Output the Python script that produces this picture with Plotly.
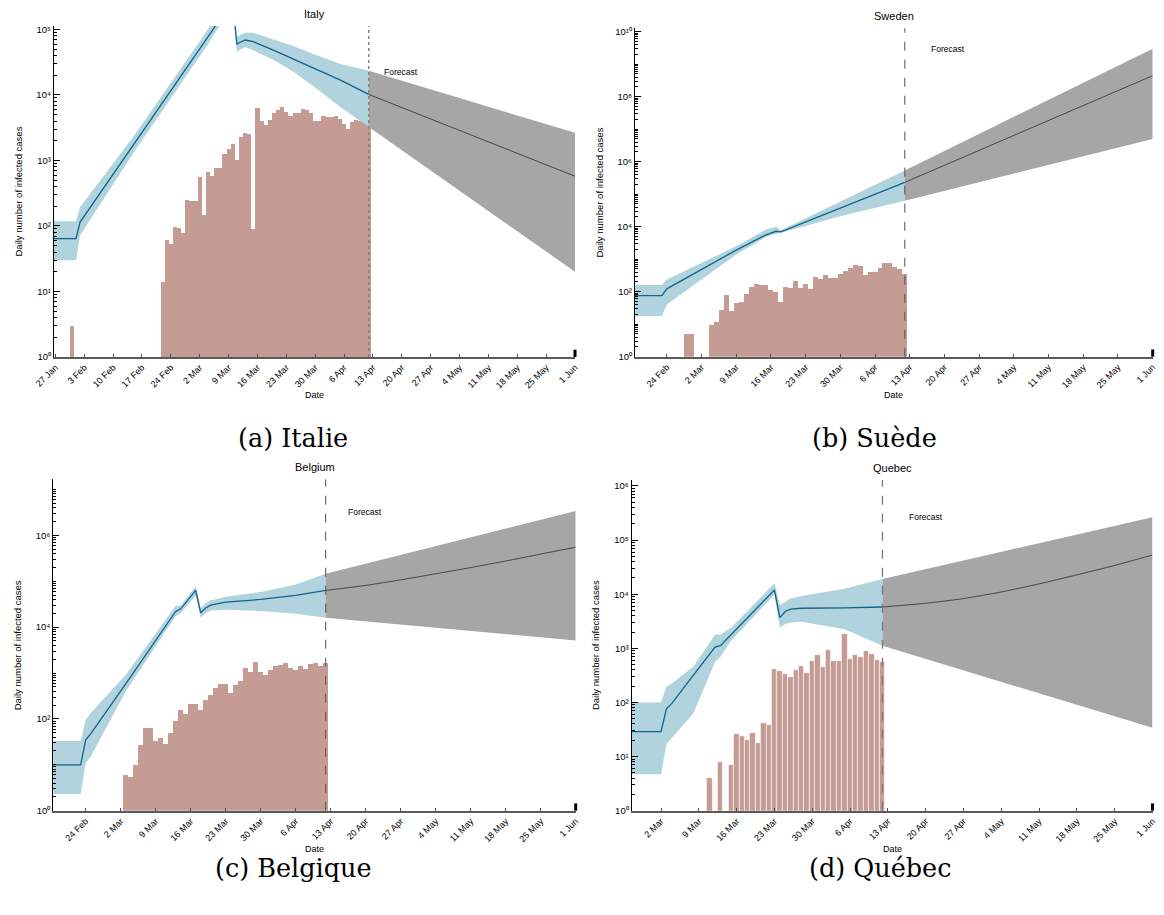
import plotly.graph_objects as go

# The page body has an 8px default margin, so the figure is drawn 8px in from the corner.
OFF = 8
W, H = 1164 - OFF, 915 - OFF

# ---------------- Italy ----------------
it_dates = ["2020-01-26", "2020-02-01", "2020-02-02", "2020-02-15", "2020-03-02", "2020-03-04",
            "2020-03-05", "2020-03-10", "2020-03-11", "2020-03-13", "2020-03-15", "2020-03-20",
            "2020-03-25", "2020-03-30", "2020-04-05", "2020-04-12"]
it_line = [64, 64, 115, 1740, 50000, 76000, 95000, 280000, 60000, 69000, 65000, 48000,
           35000, 25000, 17000, 10200]
it_upper = [118, 118, 195, 2340, 66000, 100000, 126000, 370000, 78000, 89000, 89000, 69000,
            55000, 41000, 30000, 23400]
it_lower = [30, 30, 72, 1320, 39000, 59000, 76000, 224000, 46000, 54000, 48000, 34000,
            22000, 13000, 6600, 3240]
it_fc_dates = ["2020-04-12", "2020-06-01"]
it_fc_line = [10200, 575]
it_fc_upper = [23400, 2640]
it_fc_lower = [3240, 20]
it_bar_dates = ["2020-01-31"] + [f"2020-02-{d:02d}" for d in range(22, 30)] + \
               [f"2020-03-{d:02d}" for d in range(1, 32)] + [f"2020-04-{d:02d}" for d in range(1, 13)]
it_bars = [3,
           14, 62, 53, 97, 93, 78, 250, 240,
           240, 560, 148, 670, 580, 770, 770, 1250, 1500, 1800, 1000, 2300, 2650, 2550, 91,
           6400, 4050, 3500, 4150, 5250, 5900, 6550, 5550, 4800, 5250, 5250, 6150, 5900, 5250,
           4050, 4050,
           4800, 4650, 4650, 4800, 4300, 3600, 3050, 3900, 4100, 4050, 4800, 4100]

# ---------------- Sweden ----------------
sw_dates = ["2020-02-17", "2020-02-23", "2020-02-24", "2020-03-09", "2020-03-15", "2020-03-17",
            "2020-03-18", "2020-03-30", "2020-04-12"]
sw_line = [76, 76, 122, 1900, 5600, 7200, 6900, 37000, 230000]
sw_upper = [160, 160, 235, 2500, 8100, 9800, 7700, 59000, 537000]
sw_lower = [18, 18, 40, 1400, 4800, 6000, 6500, 21000, 63000]
sw_fc_dates = ["2020-04-12", "2020-06-01"]
sw_fc_line = [230000, 4.4e8]
sw_fc_upper = [537000, 2.95e9]
sw_fc_lower = [63000, 5.0e6]
sw_bar_dates = ["2020-02-28", "2020-02-29"] + [f"2020-03-{d:02d}" for d in range(4, 32)] + \
               [f"2020-04-{d:02d}" for d in range(1, 13)]
sw_bars = [5, 5,
           9, 11.5, 26, 76, 24.5, 44, 48, 82, 141, 167, 155, 155, 110, 95, 48, 134, 125, 206,
           125, 167, 117, 275, 240, 315, 257, 257, 340, 420,
           515, 640, 600, 315, 390, 390, 515, 740, 740, 550, 480, 340]

# ---------------- Belgium ----------------
be_dates = ["2020-02-17", "2020-02-23", "2020-02-24", "2020-02-25", "2020-03-03", "2020-03-13",
            "2020-03-14", "2020-03-17", "2020-03-18", "2020-03-19", "2020-03-20", "2020-03-23",
            "2020-03-30", "2020-04-06", "2020-04-12"]
be_line = [10, 10, 35, 47, 580, 22000, 25000, 63000, 20500, 26000, 30000, 35000, 40000, 49000, 63000]
be_upper = [33, 33, 96, 135, 910, 29000, 29500, 78000, 26000, 33000, 38000, 46000, 58000, 85000, 145000]
be_lower = [2.3, 2.3, 11, 15, 400, 17400, 20400, 48000, 16000, 20000, 23000, 24000, 22400, 19500, 16000]
be_fc_line_dates = ["2020-04-12", "2020-04-20", "2020-04-27", "2020-05-04", "2020-05-11",
                    "2020-05-18", "2020-05-25", "2020-06-01"]
be_fc_line = [63000, 81000, 107000, 145000, 198000, 275000, 390000, 550000]
be_fc_dates = ["2020-04-12", "2020-06-01"]
be_fc_upper = [145000, 3.4e6]
be_fc_lower = [16000, 5100]
be_bar_dates = [f"2020-03-{d:02d}" for d in range(3, 32)] + [f"2020-04-{d:02d}" for d in range(1, 13)]
be_bars = [6, 5.3, 10, 27, 61, 61, 32, 38, 28, 48, 88, 155, 127, 204, 204, 155, 250, 320, 470,
           560, 575, 355, 530, 670, 1290, 1050, 1740, 1050, 870,
           1170, 1380, 1450, 1660, 1290, 1120, 1380, 1230, 1580, 1660, 1380, 1660]

# ---------------- Quebec ----------------
qc_dates = ["2020-02-25", "2020-03-02", "2020-03-03", "2020-03-04", "2020-03-08", "2020-03-12",
            "2020-03-13", "2020-03-15", "2020-03-23", "2020-03-24", "2020-03-25", "2020-03-26",
            "2020-03-28", "2020-04-05", "2020-04-12"]
qc_line = [29, 29, 76, 96, 320, 1050, 1120, 1800, 12000, 3700, 4800, 5300, 5500, 5600, 5800]
qc_upper = [100, 100, 195, 225, 460, 1800, 1800, 2400, 16000, 6300, 7200, 8300, 9300, 12600, 19000]
qc_lower = [4.7, 4.7, 17, 22, 63, 560, 700, 1400, 9800, 2400, 2800, 3000, 3100, 2240, 1120]
qc_fc_line_dates = ["2020-04-12", "2020-04-20", "2020-04-27", "2020-05-04", "2020-05-11",
                    "2020-05-18", "2020-05-25", "2020-06-01"]
qc_fc_line = [5800, 6800, 8300, 11000, 15500, 22800, 34000, 53000]
qc_fc_dates = ["2020-04-12", "2020-06-01"]
qc_fc_upper = [19000, 263000]
qc_fc_lower = [1120, 34]
qc_bar_dates = ["2020-03-11", "2020-03-13", "2020-03-15"] + \
               [f"2020-03-{d:02d}" for d in range(16, 32)] + [f"2020-04-{d:02d}" for d in range(1, 13)]
qc_bars = [4, 8, 7,
           26, 24, 20, 27.5, 18, 42, 38, 415, 380, 335, 295, 400, 470, 350, 590, 760,
           455, 935, 590, 590, 1850, 635, 760, 690, 890, 790, 610, 560]

titles = ["Italy", "Sweden", "Belgium", "Quebec"]
captions = ["(a) Italie", "(b) Suède", "(c) Belgique", "(d) Québec"]

BLUE_BAND = "rgb(176,211,222)"
BLUE_LINE = "rgb(15,100,138)"
GRAY_BAND = "rgb(166,166,166)"
GRAY_LINE = "rgb(70,70,70)"
BAR = "#c49c94"
FONT = "Liberation Sans"
DAY = 86400000
SUP = str.maketrans("0123456789", "⁰¹²³⁴⁵⁶⁷⁸⁹")

fig = go.Figure()


def px_x(p):
    return (p - OFF) / W


def px_y(p):
    return 1 - (p - OFF) / H


panels = [
    dict(title=titles[0], cap=captions[0], box=(54, 575, 26, 357),
         xr=["2020-01-26 16:00", "2020-06-01"], yr=[0, 5.053], tick0="2020-01-27",
         ndec=5, labeled=[0, 1, 2, 3, 4, 5], vdash="dot", vcol="rgb(130,130,130)", vw=1.5,
         d=it_dates, l=it_line, u=it_upper, lo=it_lower,
         fld=it_fc_dates, fl=it_fc_line, fd=it_fc_dates, fu=it_fc_upper, flo=it_fc_lower,
         bd=it_bar_dates, b=it_bars, sep=False, fcpos=(401, 72), cappos=(293, 438)),
    dict(title=titles[1], cap=captions[1], box=(635, 1152.7, 28.3, 356.7),
         xr=["2020-02-17 14:00", "2020-06-01"], yr=[0, 10.1], tick0="2020-02-24",
         ndec=10, labeled=[0, 2, 4, 6, 8, 10], vdash="dash", vcol="rgb(80,80,80)", vw=1,
         d=sw_dates, l=sw_line, u=sw_upper, lo=sw_lower,
         fld=sw_fc_dates, fl=sw_fc_line, fd=sw_fc_dates, fu=sw_fc_upper, flo=sw_fc_lower,
         bd=sw_bar_dates, b=sw_bars, sep=False, fcpos=(948, 49), cappos=(874, 438)),
    dict(title=titles[2], cap=captions[2], box=(53.3, 575.7, 479.3, 810.7),
         xr=["2020-02-17 12:30", "2020-06-01"], yr=[0, 7.22], tick0="2020-02-24",
         ndec=7, labeled=[0, 2, 4, 6], vdash="dash", vcol="rgb(80,80,80)", vw=1,
         d=be_dates, l=be_line, u=be_upper, lo=be_lower,
         fld=be_fc_line_dates, fl=be_fc_line, fd=be_fc_dates, fu=be_fc_upper, flo=be_fc_lower,
         bd=be_bar_dates, b=be_bars, sep=False, fcpos=(365, 512), cappos=(293, 868)),
    dict(title=titles[3], cap=captions[3], box=(631.7, 1152.5, 480, 810.7),
         xr=["2020-02-25 13:40", "2020-06-01"], yr=[0, 6.11], tick0="2020-03-02",
         ndec=6, labeled=[0, 1, 2, 3, 4, 5, 6], vdash="dash", vcol="rgb(120,120,120)", vw=1.3,
         d=qc_dates, l=qc_line, u=qc_upper, lo=qc_lower,
         fld=qc_fc_line_dates, fl=qc_fc_line, fd=qc_fc_dates, fu=qc_fc_upper, flo=qc_fc_lower,
         bd=qc_bar_dates, b=qc_bars, sep=True, fcpos=(926, 517), cappos=(880, 868)),
]

annotations = []
shapes = []
for i, p in enumerate(panels):
    n = "" if i == 0 else str(i + 1)
    xa, ya = "x" + n, "y" + n
    # uncertainty band (fit)
    fig.add_trace(go.Scatter(x=p["d"] + p["d"][::-1], y=p["u"] + p["lo"][::-1], fill="toself",
                             fillcolor=BLUE_BAND, line=dict(width=0), mode="lines",
                             hoverinfo="skip", showlegend=False, xaxis=xa, yaxis=ya))
    # forecast band
    fig.add_trace(go.Scatter(x=p["fd"] + p["fd"][::-1], y=p["fu"] + p["flo"][::-1], fill="toself",
                             fillcolor=GRAY_BAND, line=dict(width=0), mode="lines",
                             hoverinfo="skip", showlegend=False, xaxis=xa, yaxis=ya))
    # observed bars
    fig.add_trace(go.Bar(x=p["bd"], y=p["b"], width=DAY, marker_color=BAR,
                         marker_line=dict(color="white", width=0.6 if p["sep"] else 0),
                         showlegend=False, xaxis=xa, yaxis=ya))
    # fit line
    fig.add_trace(go.Scatter(x=p["d"], y=p["l"], mode="lines", line=dict(color=BLUE_LINE, width=1.3),
                             showlegend=False, xaxis=xa, yaxis=ya))
    # forecast line
    fig.add_trace(go.Scatter(x=p["fld"], y=p["fl"], mode="lines",
                             line=dict(color=GRAY_LINE, width=1, shape="spline", smoothing=0.6),
                             showlegend=False, xaxis=xa, yaxis=ya))

    x0, x1, y0, y1 = p["box"]
    xdom = [px_x(x0), px_x(x1)]
    ydom = [px_y(y1), px_y(y0)]
    tickvals = [10 ** k for k in p["labeled"]]
    ticktext = ["10" + str(k).translate(SUP) for k in p["labeled"]]
    minor_vals = [m * 10 ** k for k in range(p["ndec"] + 1) for m in range(1, 10)
                  if not (m == 1 and k in p["labeled"])]
    fig.update_layout(**{
        ("xaxis" + n): dict(domain=xdom, anchor=ya, type="date", range=p["xr"], automargin=False,
                            tickmode="linear", tick0=p["tick0"], dtick=7 * DAY,
                            tickformat="%-d %b", tickangle=-45,
                            tickfont=dict(family=FONT, size=9, color="black"),
                            ticks="inside", ticklen=3, tickcolor="rgb(80,80,80)",
                            showline=True, linecolor="rgb(90,90,90)", linewidth=1.5,
                            showgrid=False, zeroline=False),
        ("yaxis" + n): dict(domain=ydom, anchor=xa, type="log", range=p["yr"], automargin=False,
                            tickmode="array", tickvals=tickvals, ticktext=ticktext,
                            tickfont=dict(family=FONT, size=9.5, color="black"),
                            ticks="inside", ticklen=6, tickcolor="black", tickwidth=1,
                            minor=dict(tickmode="array", tickvals=minor_vals, ticks="inside",
                                       ticklen=3, tickcolor="black"),
                            showline=True, linecolor="black", linewidth=1.2,
                            showgrid=False, zeroline=False),
    })
    # forecast start marker
    shapes.append(dict(type="line", xref=xa, yref=ya + " domain", x0="2020-04-12", x1="2020-04-12",
                       y0=0, y1=1, line=dict(color=p["vcol"], width=p["vw"], dash=p["vdash"])))
    # heavy end tick at the right end of the date axis
    shapes.append(dict(type="line", xref=xa + " domain", yref=ya + " domain", x0=1, x1=1,
                       y0=0, y1=0.022, line=dict(color="black", width=3)))
    cx = (x0 + x1) / 2
    annotations += [
        dict(text=p["title"], x=px_x(cx), y=px_y(y0 - 12), xref="paper", yref="paper",
             showarrow=False, font=dict(family=FONT, size=11, color="black"),
             xanchor="center", yanchor="middle"),
        dict(text="Daily number of infected cases", x=px_x(x0 - 36), y=px_y((y0 + y1) / 2),
             xref="paper", yref="paper", showarrow=False, textangle=-90,
             font=dict(family=FONT, size=9.5, color="black"), xanchor="center", yanchor="middle"),
        dict(text="Date", x=px_x(cx), y=px_y(y1 + 38), xref="paper", yref="paper",
             showarrow=False, font=dict(family=FONT, size=9, color="black"),
             xanchor="center", yanchor="middle"),
        dict(text="Forecast", x=px_x(p["fcpos"][0]), y=px_y(p["fcpos"][1]), xref="paper",
             yref="paper", showarrow=False, font=dict(family=FONT, size=8.5, color="black"),
             xanchor="center", yanchor="middle"),
        dict(text=p["cap"], x=px_x(p["cappos"][0]), y=px_y(p["cappos"][1]), xref="paper",
             yref="paper", showarrow=False, font=dict(family="DejaVu Serif", size=25.5, color="black"),
             xanchor="center", yanchor="middle"),
    ]

fig.update_layout(width=W, height=H, margin=dict(l=0, r=0, t=0, b=0, autoexpand=False),
                  plot_bgcolor="white", paper_bgcolor="white", barmode="overlay", bargap=0,
                  showlegend=False, annotations=annotations, shapes=shapes)

fig.write_html("out.html")
